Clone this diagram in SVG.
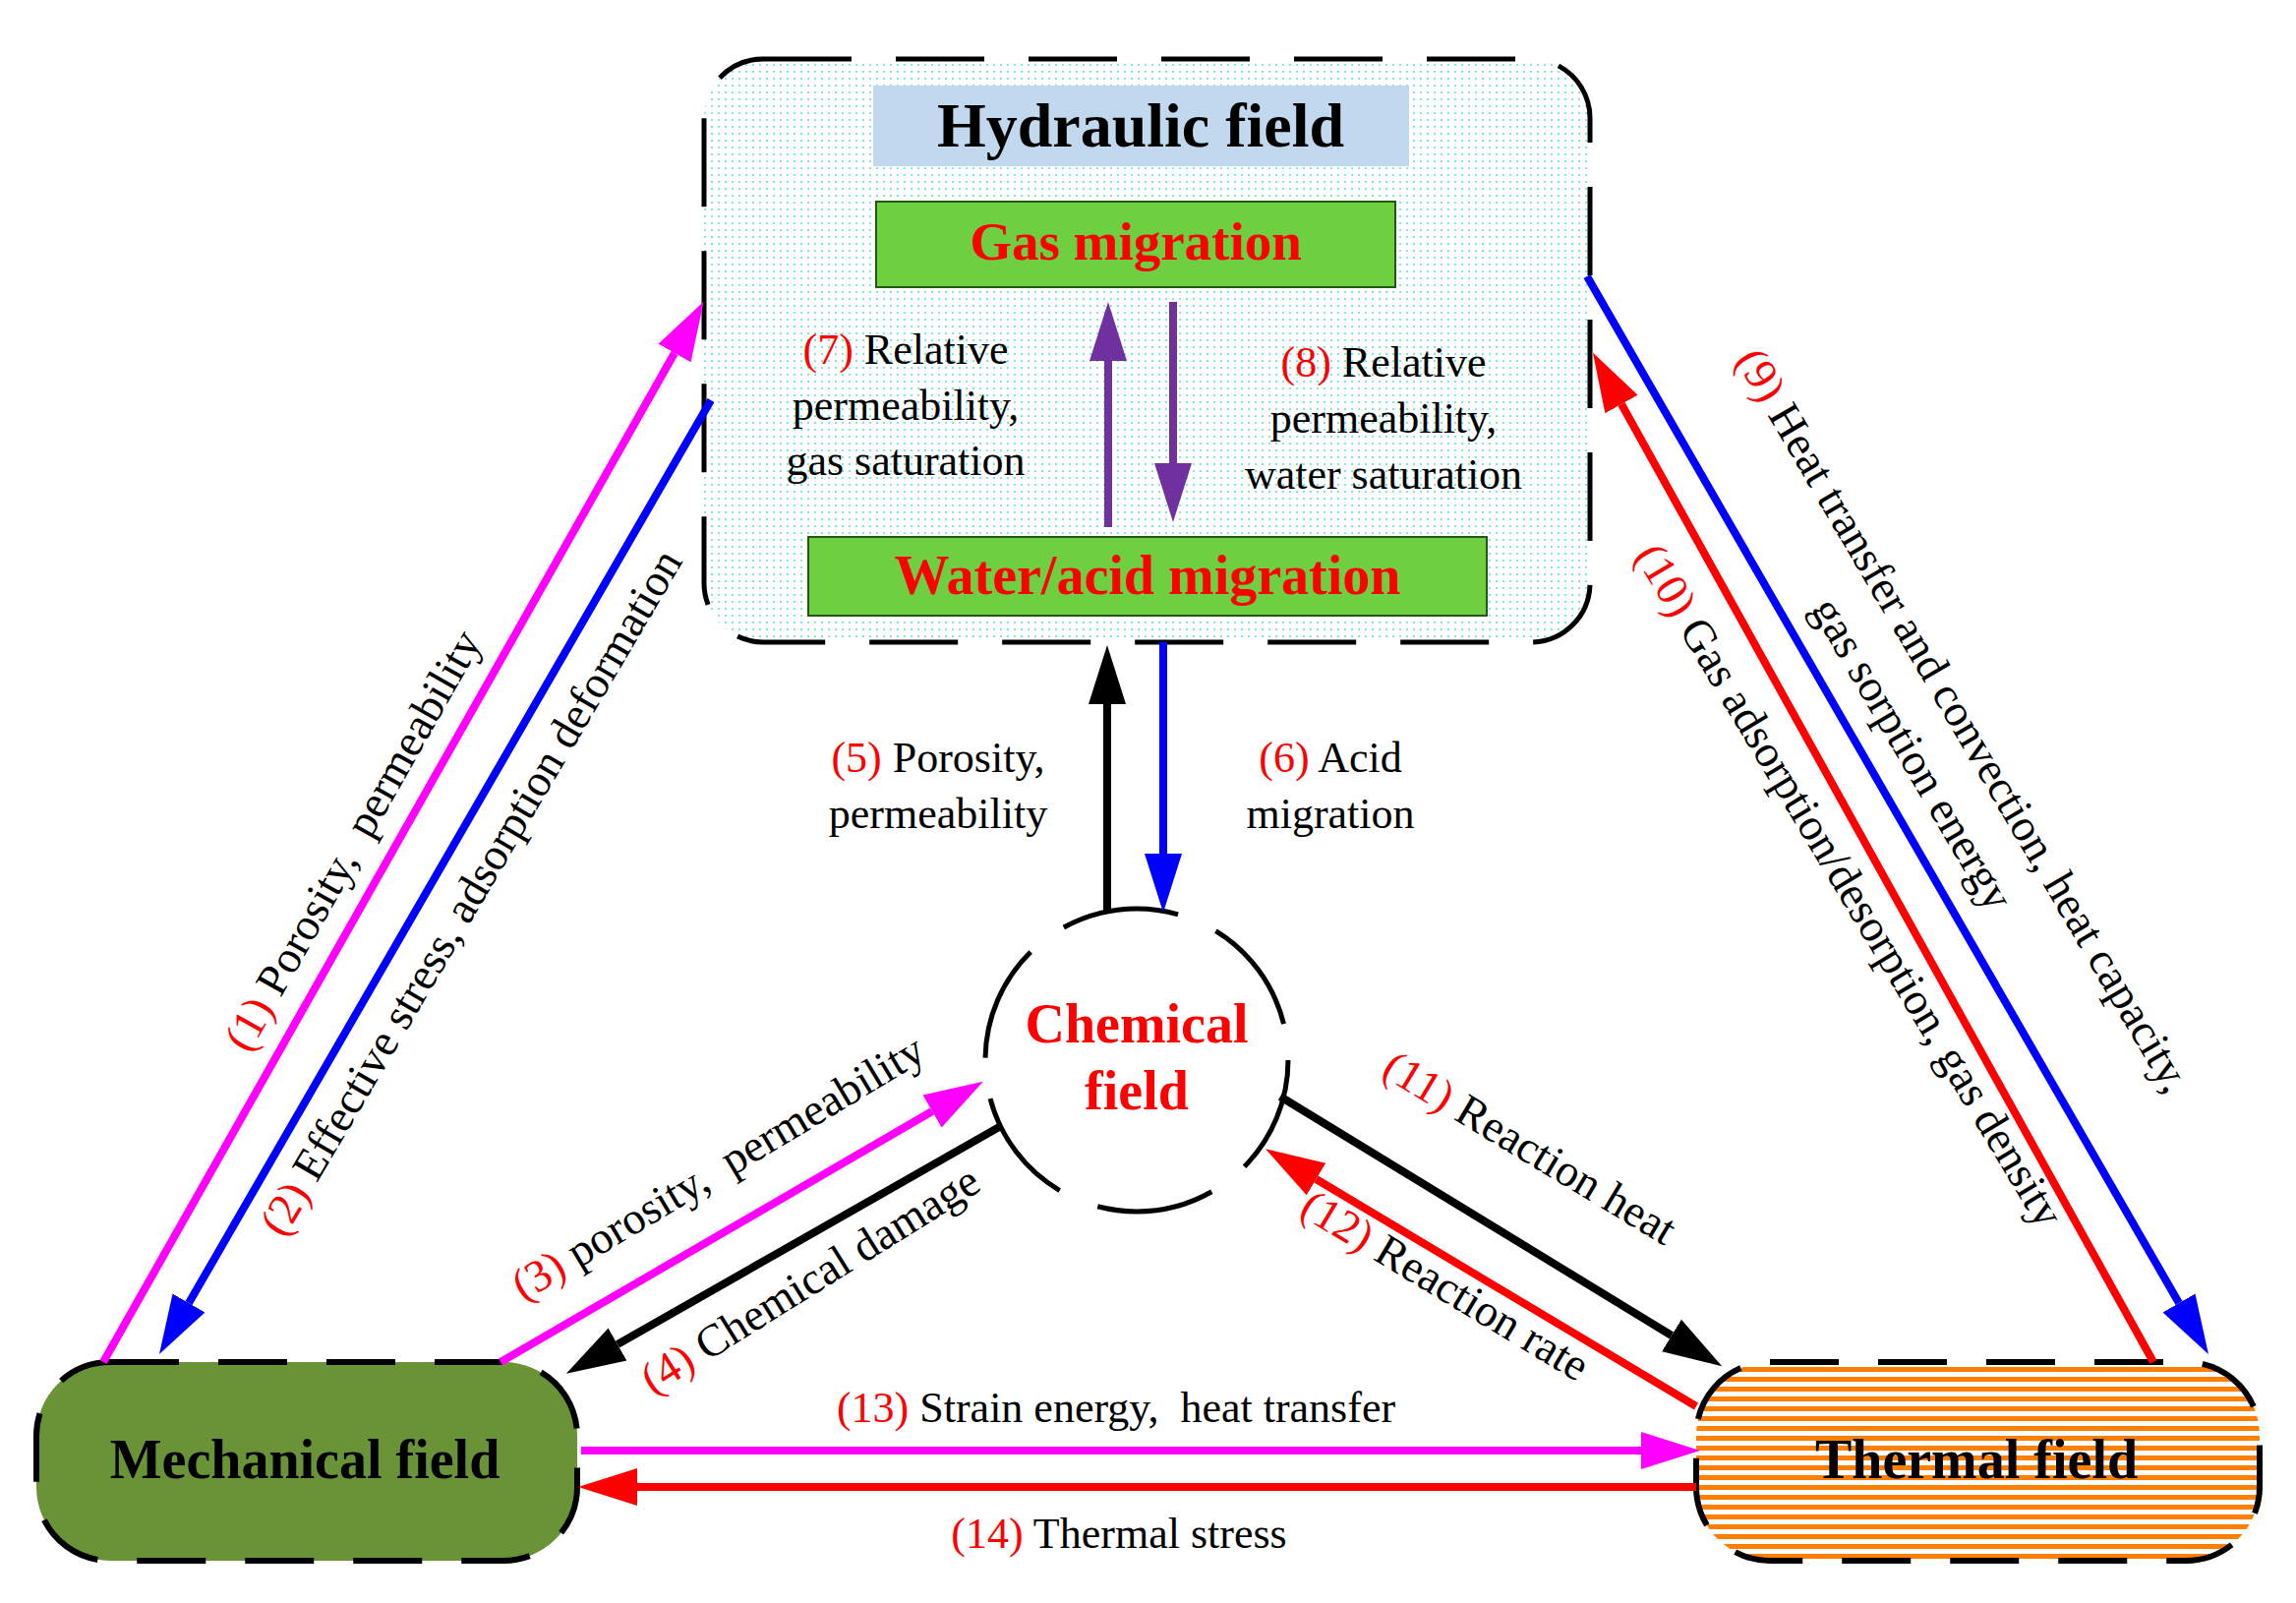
<svg xmlns="http://www.w3.org/2000/svg" width="2335" height="1630" viewBox="0 0 2335 1630">
<style>
text{font-family:"Liberation Serif","Times New Roman",serif}
.lb{font-size:44px;fill:#000}
.r{font-size:46px}
.n{fill:#f00}
.t{font-weight:bold;text-anchor:middle}
.ln{fill:none;stroke-width:8}
</style>
<defs>
<pattern id="dots" width="7" height="7" patternUnits="userSpaceOnUse"><rect width="7" height="7" fill="#fff"/><rect x="2" y="2" width="2" height="2" fill="#7fe6e6"/></pattern>
<pattern id="stripes" width="10" height="10" patternUnits="userSpaceOnUse"><rect width="10" height="10" fill="#fff"/><rect y="0" width="10" height="5" fill="#ff7f00"/></pattern>
<marker id="am" viewBox="0 -22 62 44" markerWidth="62" markerHeight="44" refX="0" refY="0" orient="auto" markerUnits="userSpaceOnUse"><path d="M0,-19 L60,0 L0,19Z" fill="#f0f"/></marker>
<marker id="ab" viewBox="0 -22 62 44" markerWidth="62" markerHeight="44" refX="0" refY="0" orient="auto" markerUnits="userSpaceOnUse"><path d="M0,-19 L60,0 L0,19Z" fill="#00f"/></marker>
<marker id="ar" viewBox="0 -22 62 44" markerWidth="62" markerHeight="44" refX="0" refY="0" orient="auto" markerUnits="userSpaceOnUse"><path d="M0,-19 L60,0 L0,19Z" fill="#f00"/></marker>
<marker id="ak" viewBox="0 -22 62 44" markerWidth="62" markerHeight="44" refX="0" refY="0" orient="auto" markerUnits="userSpaceOnUse"><path d="M0,-19 L60,0 L0,19Z" fill="#000"/></marker>
<marker id="ap" viewBox="0 -22 62 44" markerWidth="62" markerHeight="44" refX="0" refY="0" orient="auto" markerUnits="userSpaceOnUse"><path d="M0,-19 L60,0 L0,19Z" fill="#7030a0"/></marker>
</defs>
<rect width="2335" height="1630" fill="#fff"/>

<g id="hydraulic">
<rect x="716" y="60" width="901" height="593" rx="60" fill="url(#dots)" stroke="#000" stroke-width="5" stroke-dasharray="90 45"/>
<rect x="888" y="87" width="545" height="82" fill="#c2d8ee"/>
<text class="t" x="1160" y="149" font-size="64">Hydraulic field</text>
</g>
<g id="gas">
<rect x="891" y="205" width="528" height="87" fill="#6ecf40" stroke="#1f5a10" stroke-width="2"/>
<text class="t" x="1155" y="264" font-size="55" fill="#f00">Gas migration</text>
</g>
<g id="water">
<rect x="822" y="546" width="690" height="80" fill="#6ecf40" stroke="#1f5a10" stroke-width="2"/>
<text class="t" x="1167" y="604" font-size="56" fill="#f00">Water/acid migration</text>
</g>
<g id="chemical">
<circle cx="1156" cy="1078" r="154" fill="#fff" stroke="#000" stroke-width="5" stroke-dasharray="120 42"/>
<text class="t" x="1156" y="1060" font-size="56" fill="#f00">Chemical</text>
<text class="t" x="1156" y="1128" font-size="56" fill="#f00">field</text>
</g>
<g id="mechanical">
<rect x="37" y="1385" width="550" height="202" rx="75" fill="#6a9337" stroke="#000" stroke-width="6" stroke-dasharray="70 40"/>
<text class="t" x="310" y="1503" font-size="56">Mechanical field</text>
</g>
<g id="thermal">
<rect x="1725" y="1385" width="573" height="202" rx="75" fill="url(#stripes)" stroke="#000" stroke-width="6" stroke-dasharray="70 40"/>
<text class="t" x="2010" y="1503" font-size="56">Thermal field</text>
</g>

<g id="connectors">
<path class="ln" stroke="#f0f" d="M105,1385 L686,359" marker-end="url(#am)"/>
<path class="ln" stroke="#00f" d="M723,407 L192,1325" marker-end="url(#ab)"/>
<path class="ln" stroke="#f0f" d="M509,1385 L948,1130" marker-end="url(#am)"/>
<path class="ln" stroke="#000" d="M1018,1145 L628,1367" marker-end="url(#ak)"/>
<path class="ln" stroke="#000" d="M1126,928 L1126,716" marker-end="url(#ak)"/>
<path class="ln" stroke="#00f" d="M1183,653 L1183,868" marker-end="url(#ab)"/>
<path class="ln" stroke="#7030a0" d="M1127,536 L1127,367" marker-end="url(#ap)"/>
<path class="ln" stroke="#7030a0" d="M1193,307 L1193,471" marker-end="url(#ap)"/>
<path class="ln" stroke="#00f" d="M1614,281 L2216,1325" marker-end="url(#ab)"/>
<path class="ln" stroke="#f00" d="M2190,1385 L1649,411" marker-end="url(#ar)"/>
<path class="ln" stroke="#000" d="M1302,1115 L1700,1358" marker-end="url(#ak)"/>
<path class="ln" stroke="#f00" d="M1725,1430 L1338.5,1199" marker-end="url(#ar)"/>
<path class="ln" stroke="#f0f" d="M591,1475 L1669,1475" marker-end="url(#am)"/>
<path class="ln" stroke="#f00" d="M1725,1512 L648,1512" marker-end="url(#ar)"/>
</g>

<g id="labels" class="lb">
<text x="921" y="370" text-anchor="middle"><tspan class="n">(7)</tspan> Relative</text>
<text x="921" y="427" text-anchor="middle">permeability,</text>
<text x="921" y="483" text-anchor="middle">gas saturation</text>
<text x="1407" y="383" text-anchor="middle"><tspan class="n">(8)</tspan> Relative</text>
<text x="1407" y="440" text-anchor="middle">permeability,</text>
<text x="1407" y="497" text-anchor="middle">water saturation</text>
<text x="954" y="785" text-anchor="middle"><tspan class="n">(5)</tspan> Porosity,</text>
<text x="954" y="842" text-anchor="middle">permeability</text>
<text x="1353" y="785" text-anchor="middle"><tspan class="n">(6)</tspan> Acid</text>
<text x="1353" y="842" text-anchor="middle">migration</text>
<text x="1135" y="1446" text-anchor="middle"><tspan class="n">(13)</tspan> Strain energy,&#160; heat transfer</text>
<text x="1138" y="1574" text-anchor="middle"><tspan class="n">(14)</tspan> Thermal stress</text>
<g class="r">
<text transform="translate(372,862) rotate(-60.5)" text-anchor="middle"><tspan class="n">(1)</tspan> Porosity,&#160; permeability</text>
<text transform="translate(492,915) rotate(-59.5)" text-anchor="middle"><tspan class="n">(2)</tspan> Effective stress, adsorption deformation</text>
<text transform="translate(738,1200) rotate(-31)" text-anchor="middle"><tspan class="n">(3)</tspan> porosity,&#160; permeability</text>
<text transform="translate(832,1314) rotate(-32)" text-anchor="middle"><tspan class="n">(4)</tspan> Chemical damage</text>
<text transform="translate(1548,1180) rotate(31)" text-anchor="middle"><tspan class="n">(11)</tspan> Reaction heat</text>
<text transform="translate(1462,1320) rotate(31)" text-anchor="middle"><tspan class="n">(12)</tspan> Reaction rate</text>
<text transform="translate(1984,740) rotate(59.6)" text-anchor="middle"><tspan class="n">(9)</tspan> Heat transfer and convection, heat capacity,</text>
<text transform="translate(1932,774) rotate(59.6)" text-anchor="middle">gas sorption energy</text>
<text transform="translate(1868,908) rotate(59)" text-anchor="middle"><tspan class="n">(10)</tspan> Gas adsorption/desorption, gas density</text>
</g>
</g>
</svg>
